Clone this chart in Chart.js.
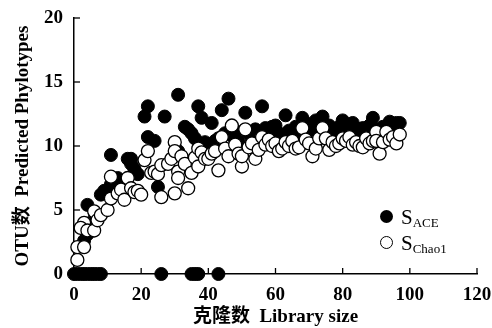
<!DOCTYPE html>
<html>
<head>
<meta charset="utf-8">
<script src="https://cdn.jsdelivr.net/npm/chart.js@4.4.1/dist/chart.umd.min.js"></script>
<style>
  body { margin:0; background:#fff; }
  #wrap { position:relative; width:492px; height:328px; }
  .leg { position:absolute; font-family:'Liberation Serif', serif; font-size:21px; color:#000; line-height:1; }
  .leg sub { font-size:13px; vertical-align:-3px; }
  .mk { position:absolute; width:13px; height:13px; border-radius:50%; box-sizing:border-box; }
</style>
</head>
<body>
<div id="wrap">
  <canvas id="c" width="492" height="328"></canvas>
  <div class="mk" style="left:380px;top:210px;background:#000;"></div>
  <div class="leg" style="left:401px;top:207px;">S<sub>ACE</sub></div>
  <div class="mk" style="left:380px;top:236px;background:#fff;border:1.3px solid #000;"></div>
  <div class="leg" style="left:401px;top:233px;">S<sub>Chao1</sub></div>
</div>
<script>
// ---- data ----
const xTicks = [0, 20, 40, 60, 80, 100, 120];
const yTicks = [0, 5, 10, 15, 20];

// S_ACE (filled)
const aceX = [0,1,2,3,4,5,6,7,8, 3,4,4,6,8,9,11,11,13,14,16,17,18,19,17,
  21,22,22,24,25,26,27,31,31,30,33,34,35,35,36,36,37,37,38,39,40,
  41,42,43,43,44,45,46,47,48,49,51,52,53,54,55,56,57,58,59,60,
  61,62,63,64,65,66,67,68,69,70,71,72,73,74,75,76,77,78,79,80,81,82,83,84,85,86,87,88,89,90,91,92,93,94,95,96,97];
const aceY = [0,0,0,0,0,0,0,0,0, 2.6,3.1,5.4,4.3,6.2,6.5,9.3,7.0,7.5,7.2,9.0,8.6,8.2,7.8,9.0,
  12.3,13.1,10.7,10.4,6.8,0,12.3,14.0,9.6,9.2,11.5,11.3,11.0,0,10.6,0,13.1,0,12.2,10.3,10.0,
  11.8,10.4,0,10.6,12.8,11.0,13.7,10.8,11.2,10.4,12.6,11.0,10.5,11.3,10.2,13.1,11.4,10.9,11.5,11.6,
  11.0,10.6,12.4,11.2,10.8,11.5,11.0,12.2,11.8,11.2,11.5,12.0,11.4,12.3,11.0,11.6,11.2,11.0,11.5,12.0,11.4,11.0,11.8,11.2,10.9,11.4,11.0,11.6,12.2,11.3,11.0,11.5,11.2,11.9,11.6,11.8,11.8];

// S_Chao1 (open)
const chaoX = [1,1,3,3,2,4,6,6,7,8,10,11,11,13,14,15,16,17,18,19,20,
  21,22,23,24,25,26,26,28,29,30,30,30,31,31,32,33,34,35,36,37,37,38,39,40,
  41,42,43,44,45,46,47,48,49,50,50,51,52,53,54,55,56,57,58,59,60,
  61,62,63,64,65,66,67,68,69,70,71,72,73,74,75,76,77,78,79,80,81,82,83,84,85,86,87,88,89,90,90,91,92,93,94,95,96,97];
const chaoY = [1.1,2.1,2.1,4.0,3.6,3.4,4.9,3.4,4.2,4.6,5.0,5.9,7.6,6.3,6.6,5.8,7.5,6.7,6.4,6.5,6.2,
  8.9,9.6,7.9,8.0,7.8,6.0,8.5,8.6,9.0,6.3,10.3,9.6,8.0,7.5,9.2,8.6,6.7,7.9,9.1,9.8,8.4,9.5,9.0,9.0,
  9.4,9.6,8.1,10.7,9.8,9.2,11.6,10.1,9.4,8.4,9.2,11.3,9.9,10.2,9.0,9.7,10.7,10.1,10.5,10.0,10.2,
  9.6,9.8,10.3,10.0,10.4,9.8,9.9,11.4,10.5,10.2,9.2,9.8,10.6,11.4,10.6,9.7,10.3,10.0,10.2,10.6,10.4,10.7,10.1,10.3,10.0,9.9,10.6,10.2,10.4,11.1,10.4,9.4,10.3,11.1,10.5,10.7,10.2,10.9];

function pts(xs, ys) { return xs.map(function(x, i){ return { x: x, y: ys[i] }; }); }

const FONT = "'Liberation Serif', 'Noto Sans CJK SC', serif";

// inward tick marks drawn from the scales
const innerTicks = {
  id: 'innerTicks',
  afterDraw(chart) {
    const ctx = chart.ctx, xs = chart.scales.x, ys = chart.scales.y;
    ctx.save();
    ctx.strokeStyle = '#000'; ctx.lineWidth = 1.3;
    xTicks.forEach(function(v){
      const px = xs.getPixelForValue(v);
      ctx.beginPath(); ctx.moveTo(px, ys.bottom); ctx.lineTo(px, ys.bottom - 6); ctx.stroke();
    });
    yTicks.forEach(function(v){
      const py = ys.getPixelForValue(v);
      ctx.beginPath(); ctx.moveTo(xs.left, py); ctx.lineTo(xs.left + 6, py); ctx.stroke();
    });
    ctx.restore();
  }
};

new Chart(document.getElementById('c'), {
  type: 'scatter',
  data: {
    datasets: [{
      label: 'SACE', data: pts(aceX, aceY), order: 2,
      backgroundColor: '#000', borderColor: '#000', borderWidth: 1,
      pointRadius: 6.5, clip: false
    }, {
      label: 'SChao1', data: pts(chaoX, chaoY), order: 1,
      backgroundColor: '#fff', borderColor: '#000', borderWidth: 1.3,
      pointRadius: 6.5, clip: false
    }]
  },
  options: {
    responsive: false, animation: false,
    layout: { padding: { top: 18, right: 15, left: 0, bottom: 0 } },
    plugins: { legend: { display: false }, tooltip: { enabled: false } },
    scales: {
      x: {
        type: 'linear', min: 0, max: 120,
        afterBuildTicks: function(s){ s.ticks = xTicks.map(function(v){ return { value: v }; }); },
        afterFit: function(s){ s.height = 54; s.paddingLeft = 0; s.paddingRight = 0; },
        grid: { display: true, drawOnChartArea: false, drawTicks: false },
        border: { display: true, color: '#000', width: 1.5 },
        ticks: { color: '#000', padding: 10, maxRotation: 0, font: { family: FONT, size: 19, weight: 'bold' } },
        title: { display: true, text: '克隆数  Library size', color: '#000', padding: { top: 2, bottom: 0 },
                 font: { family: FONT, size: 19, weight: 'bold' } }
      },
      y: {
        type: 'linear', min: 0, max: 20,
        afterBuildTicks: function(s){ s.ticks = yTicks.map(function(v){ return { value: v }; }); },
        afterFit: function(s){ s.width = 74; s.paddingTop = 0; s.paddingBottom = 0; },
        grid: { display: true, drawOnChartArea: false, drawTicks: false },
        border: { display: true, color: '#000', width: 1.5 },
        ticks: { color: '#000', padding: 11, font: { family: FONT, size: 19, weight: 'bold' } },
        title: { display: true, text: 'OTU数  Predicted Phylotypes', color: '#000', padding: { top: 12, bottom: 0 },
                 font: { family: FONT, size: 19, weight: 'bold' } }
      }
    }
  },
  plugins: [innerTicks]
});
</script>
</body>
</html>
